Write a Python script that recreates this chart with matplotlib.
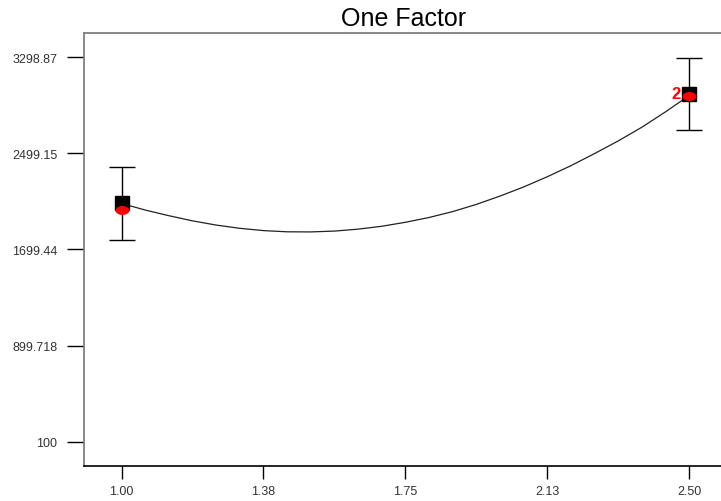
import matplotlib.pyplot as plt
from matplotlib.path import Path
from matplotlib.transforms import Affine2D

plt.rcParams['font.family'] = ['Liberation Sans', 'DejaVu Sans']

# model line
factor_x = [1.0, 1.0625, 1.125, 1.1875, 1.25, 1.3125, 1.375, 1.4375, 1.5, 1.5625,
            1.625, 1.6875, 1.75, 1.8125, 1.875, 1.9375, 2.0, 2.0625, 2.125, 2.1875,
            2.25, 2.3125, 2.375, 2.4375, 2.5]
predicted = [2082, 2027, 1980, 1937, 1902, 1875, 1856, 1846, 1845, 1852,
             1868, 1892, 1925, 1965, 2014, 2074, 2143, 2219, 2304, 2396,
             2497, 2602, 2716, 2844, 2980]

# design points
design_x = [1.0, 2.5]
mean_y = [2087, 2989]
actual_y = [2028, 2976]
bar_low = [1779, 2694]
bar_high = [2386, 3290]
point_counts = ['', '2']

xticks = [1.0, 1.375, 1.75, 2.125, 2.5]
xtick_labels = ['1.00', '1.38', '1.75', '2.13', '2.50']
yticks = [100, 899.718, 1699.44, 2499.15, 3298.87]
ytick_labels = ['100', '899.718', '1699.44', '2499.15', '3298.87']

fig = plt.figure(figsize=(7.21, 5.02), dpi=100)
ax = fig.add_axes([83.7 / 721, (502 - 466.7) / 502, (727 - 83.7) / 721, (466.7 - 34) / 502])

ax.plot(factor_x, predicted, color='#222222', lw=0.9, zorder=2)

yerr = [[m - lo for m, lo in zip(mean_y, bar_low)], [hi - m for m, hi in zip(mean_y, bar_high)]]
ax.errorbar(design_x, mean_y, yerr=yerr, fmt='none', ecolor='black', elinewidth=1.0,
            capsize=9.7, capthick=1.0, zorder=3)

ax.plot(design_x, mean_y, linestyle='none', marker='s', markersize=9.5, color='black', zorder=4)

ellipse = Path.unit_circle().transformed(Affine2D().scale(1.0, 0.65))
ax.plot(design_x, actual_y, linestyle='none', marker=ellipse, markersize=10,
        color='#ff0000', markeredgewidth=0, zorder=5)

for x, y, n in zip(design_x, actual_y, point_counts):
    if n:
        ax.annotate(n, (x, y), xytext=(-6.5, 2), textcoords='offset points', ha='right', va='center',
                    color='#ff0000', fontsize=12, fontweight='bold', zorder=6)

ax.set_xlim(0.9, 2.6)
ax.set_ylim(-100, 3500)
ax.set_xticks(xticks)
ax.set_xticklabels(xtick_labels)
ax.set_yticks(yticks)
ax.set_yticklabels(ytick_labels)
ax.tick_params(axis='y', length=12, width=1, pad=7, labelsize=9, labelcolor='#333333')
ax.tick_params(axis='x', length=9, width=1, pad=5, labelsize=9, labelcolor='#333333')

for side in ['top', 'left']:
    ax.spines[side].set_color('#808080')
    ax.spines[side].set_linewidth(1.3)
ax.spines['bottom'].set_color('black')
ax.spines['bottom'].set_linewidth(1.2)
ax.spines['right'].set_visible(False)

fig.text(403.3 / 721, 1 - 19 / 502, 'One Factor', ha='center', va='center', fontsize=18)

fig.savefig('out.png', dpi=100)
